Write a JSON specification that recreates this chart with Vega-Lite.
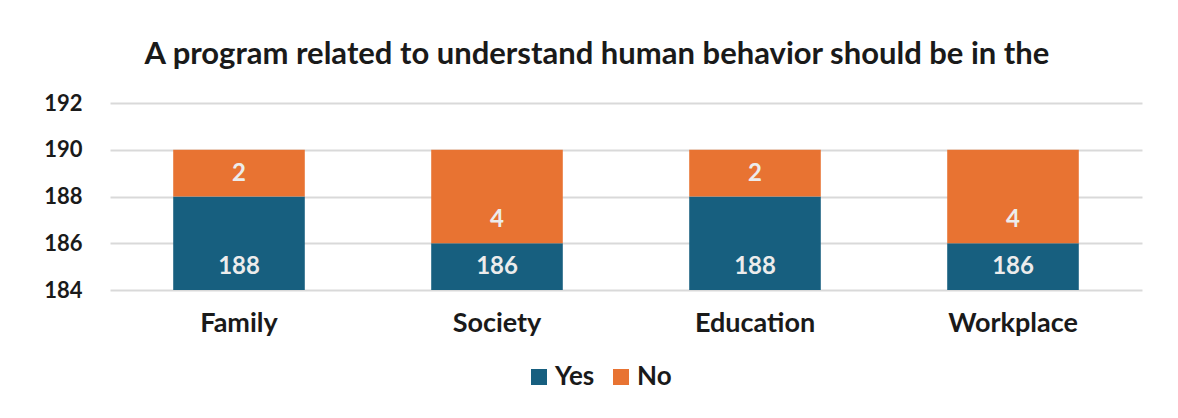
{
  "$schema": "https://vega.github.io/schema/vega-lite/v6.json",
  "autosize": {"type": "none"},
  "width": 1032,
  "height": 187,
  "padding": {"left": 110, "top": 103, "right": 36, "bottom": 128},
  "background": "white",
  "config": {
    "font": "Lato",
    "view": {"stroke": null},
    "axis": {"labelFont": "Lato", "labelFontWeight": "bold", "labelColor": "#1a1a1a"}
  },
  "title": {
    "text": "A program related to understand human behavior should be in the",
    "font": "Lato",
    "fontSize": 31,
    "fontWeight": "bold",
    "color": "#1a1a1a",
    "anchor": "middle",
    "frame": "group",
    "baseline": "alphabetic",
    "offset": -3,
    "dx": -29
  },
  "data": {
    "values": [
      {"category": "Family", "answer": "Yes", "count": 188},
      {"category": "Family", "answer": "No", "count": 2},
      {"category": "Society", "answer": "Yes", "count": 186},
      {"category": "Society", "answer": "No", "count": 4},
      {"category": "Education", "answer": "Yes", "count": 188},
      {"category": "Education", "answer": "No", "count": 2},
      {"category": "Workplace", "answer": "Yes", "count": 186},
      {"category": "Workplace", "answer": "No", "count": 4}
    ]
  },
  "transform": [
    {"stack": "count", "groupby": ["category"], "sort": [{"field": "answer", "order": "descending"}], "as": ["y0", "y1"]}
  ],
  "encoding": {
    "x": {
      "field": "category",
      "type": "nominal",
      "sort": ["Family", "Society", "Education", "Workplace"],
      "scale": {"paddingInner": 0.49, "paddingOuter": 0.245},
      "axis": {
        "title": null,
        "labelAngle": 0,
        "labelFontSize": 27,
        "labelPadding": 20,
        "ticks": false,
        "domain": false,
        "grid": false
      }
    }
  },
  "layer": [
    {
      "mark": {"type": "bar", "clip": true},
      "encoding": {
        "y": {
          "field": "y0",
          "type": "quantitative",
          "scale": {"domain": [184, 192], "zero": false, "nice": false},
          "axis": {
            "title": null,
            "values": [184, 186, 188, 190, 192],
            "labelFontSize": 22,
            "labelPadding": 28,
            "ticks": false,
            "domain": false,
            "grid": true,
            "gridColor": "#d9d9d9",
            "gridWidth": 2
          }
        },
        "y2": {"field": "y1"},
        "color": {
          "field": "answer",
          "type": "nominal",
          "scale": {"domain": ["Yes", "No"], "range": ["#175F7F", "#E87332"]},
          "legend": {
            "title": null,
            "orient": "none",
            "legendX": 416,
            "legendY": 261,
            "direction": "horizontal",
            "symbolType": "square",
            "symbolSize": 256,
            "symbolStrokeWidth": 0,
            "labelFont": "Lato",
            "labelFontSize": 26,
            "labelFontWeight": "bold",
            "labelColor": "#1a1a1a",
            "labelOffset": 3,
            "columnPadding": 13
          }
        }
      }
    },
    {
      "transform": [{"filter": "datum.answer === 'Yes'"}],
      "mark": {"type": "text", "font": "Lato", "fontSize": 24, "fontWeight": "bold", "color": "#ececec", "baseline": "middle"},
      "encoding": {
        "y": {"datum": 185, "type": "quantitative"},
        "text": {"field": "count", "type": "quantitative"}
      }
    },
    {
      "transform": [{"filter": "datum.answer === 'No'"}],
      "mark": {"type": "text", "font": "Lato", "fontSize": 24, "fontWeight": "bold", "color": "#ececec", "baseline": "middle", "dy": -23},
      "encoding": {
        "y": {"field": "y0", "type": "quantitative"},
        "text": {"field": "count", "type": "quantitative"}
      }
    }
  ]
}
